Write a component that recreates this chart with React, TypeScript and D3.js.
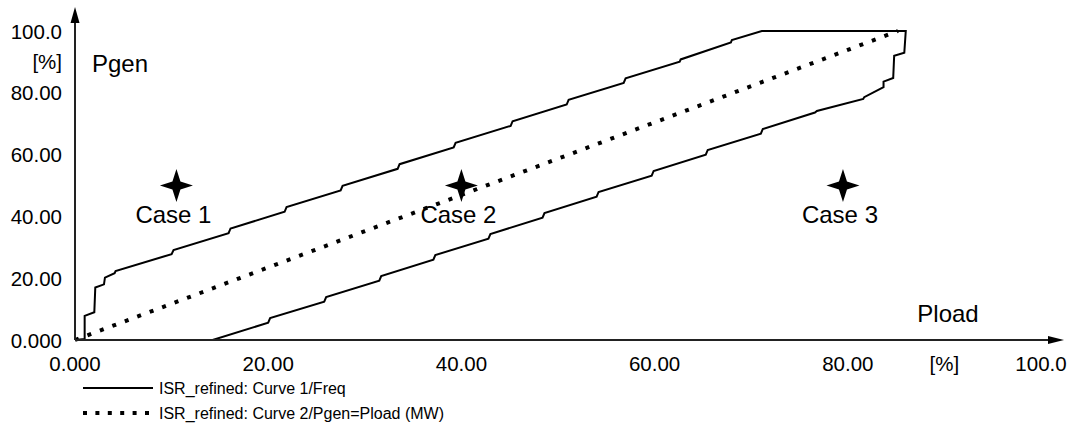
import React from 'react'
import * as d3 from 'd3'

// axis ticks (90 carries the unit label instead of a number)
const xTicks = [0, 20, 40, 60, 80, 90, 100]
const yTicks = [0, 20, 40, 60, 80, 90, 100]
const unitTick = 90

// Curve 1/Freq : upper boundary, left to right [Pload %, Pgen %]
const upperX = [0, 1.0, 1.0, 2.0, 2.1, 3.0, 3.1, 4.1, 4.2, 10.0, 10.2, 15.9, 16.1, 21.7, 21.9, 27.5, 27.7, 33.4, 33.6, 39.2, 39.4, 45.1, 45.3, 50.9, 51.1, 56.8, 57.0, 62.6, 62.7, 67.9, 68.0, 71.1]
const upperY = [0, 0.3, 7.8, 9.0, 17.0, 18.0, 20.2, 21.6, 22.3, 27.8, 29.1, 34.6, 36.1, 41.5, 43.0, 48.4, 49.9, 55.4, 56.9, 62.3, 63.8, 69.3, 70.8, 76.2, 77.7, 83.2, 84.7, 90.1, 90.8, 96.3, 97.1, 100]

// Curve 1/Freq : lower boundary, left to right
const lowerX = [14.25, 20.0, 20.2, 25.8, 26.0, 31.5, 31.7, 37.1, 37.3, 42.8, 43.0, 48.4, 48.6, 54.0, 54.2, 59.7, 59.9, 65.3, 65.5, 71.0, 71.2, 76.6, 76.8, 81.6, 81.7, 83.7, 83.7, 84.7, 84.8, 85.85, 86.0]
const lowerY = [0, 5.6, 7.1, 12.4, 13.9, 19.2, 20.7, 26.0, 27.5, 32.8, 34.3, 39.6, 41.1, 46.4, 47.9, 53.2, 54.7, 60.0, 61.5, 66.8, 68.3, 73.6, 74.1, 78.0, 78.6, 81.8, 83.6, 84.8, 92.0, 93.0, 100]

// Curve 2/Pgen=Pload (MW)
const diagX = [0, 85.2]
const diagY = [0, 100]

// operating points
const caseNames = ['Case 1', 'Case 2', 'Case 3']
const caseX = [10.5, 40.0, 79.5]
const caseY = [50, 50, 50]

const legendLabels = ['ISR_refined: Curve 1/Freq', 'ISR_refined: Curve 2/Pgen=Pload (MW)']

const W = 1077
const H = 430
const FONT = '"Liberation Sans", Arial, sans-serif'

export default function App() {
  React.useEffect(() => {
    document.body.style.margin = '0'
  }, [])

  const x = d3.scaleLinear().domain([0, 100]).range([75, 1041])
  const y = d3.scaleLinear().domain([0, 100]).range([340, 31])
  const fmt = d3.format('.4r')

  const line = d3
    .line<[number, number]>()
    .x((d) => x(d[0]))
    .y((d) => y(d[1]))

  const upper: [number, number][] = upperX.map((v, i) => [v, upperY[i]])
  const lower: [number, number][] = lowerX.map((v, i) => [v, lowerY[i]])
  // closed loop: up the upper edge, across the top, down the lower edge, back along the axis
  const curve1 = [...upper, ...lower.slice().reverse(), [0, 0] as [number, number]]
  const curve2: [number, number][] = diagX.map((v, i) => [v, diagY[i]])

  // 4-point star marker
  const star = (cx: number, cy: number) => {
    const r = 16.5
    const q = 4
    return `M${cx},${cy - r} L${cx + q},${cy - q} L${cx + r},${cy} L${cx + q},${cy + q} L${cx},${cy + r} L${cx - q},${cy + q} L${cx - r},${cy} L${cx - q},${cy - q} Z`
  }

  return (
    <svg width={W} height={H} style={{ display: 'block' }} fontFamily={FONT}>
      <rect width={W} height={H} fill="#fff" />

      {/* curves */}
      <path d={line(curve1) ?? ''} fill="none" stroke="#000" strokeWidth={2} strokeLinejoin="miter" />
      <path d={line(curve2) ?? ''} fill="none" stroke="#000" strokeWidth={4} strokeDasharray="4 9.3" />

      {/* axes */}
      <line x1={x(0)} x2={1050} y1={y(0)} y2={y(0)} stroke="#222" strokeWidth={2} />
      <path d={`M1048,${y(0) - 4} L1064,${y(0)} L1048,${y(0) + 4} Z`} fill="#000" />
      <line x1={x(0)} x2={x(0)} y1={y(0)} y2={20} stroke="#222" strokeWidth={2} />
      <path d={`M${x(0) - 4.5},23 L${x(0)},7 L${x(0) + 4.5},23 Z`} fill="#000" />

      {/* y tick labels */}
      {yTicks.map((t) => (
        <text key={'y' + t} x={62} y={y(t)} textAnchor="end" dominantBaseline="central" fontSize={20.5} fill="#000">
          {t === unitTick ? '[%]' : fmt(t)}
        </text>
      ))}
      {/* x tick labels */}
      {xTicks.map((t) => (
        <text key={'x' + t} x={x(t)} y={363} textAnchor="middle" dominantBaseline="central" fontSize={20.5} fill="#000">
          {t === unitTick ? '[%]' : fmt(t)}
        </text>
      ))}

      <text x={92} y={63} dominantBaseline="central" fontSize={24} fill="#000">Pgen</text>
      <text x={948} y={313} textAnchor="middle" dominantBaseline="central" fontSize={24} fill="#000">Pload</text>

      {/* cases */}
      {caseNames.map((c, i) => (
        <g key={c}>
          <path d={star(x(caseX[i]), y(caseY[i]))} fill="#000" />
          <text x={x(caseX[i]) - 3} y={y(caseY[i]) + 29} textAnchor="middle" dominantBaseline="central" fontSize={24} fill="#000">
            {c}
          </text>
        </g>
      ))}

      {/* legend */}
      <line x1={83} x2={153} y1={388} y2={388} stroke="#000" strokeWidth={2} />
      <line x1={83} x2={153} y1={413} y2={413} stroke="#000" strokeWidth={4} strokeDasharray="4 8.4" />
      {legendLabels.map((l, i) => (
        <text key={l} x={159} y={388 + i * 25} dominantBaseline="central" fontSize={16} fill="#000">
          {l}
        </text>
      ))}
    </svg>
  )
}
